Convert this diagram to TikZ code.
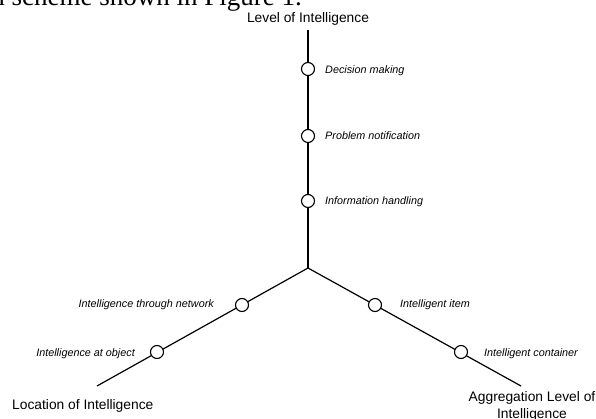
\documentclass[tikz,border=0pt]{standalone}
\usepackage{fontspec}
\setmainfont{Liberation Sans}
\newfontfamily\serifdoc{Liberation Serif}
\begin{document}
\begin{tikzpicture}[x=1pt,y=-1pt,
  axis/.style={line width=1.2pt},
  dot/.style={circle,draw,line width=1.1pt,fill=white,minimum size=13pt,inner sep=0pt},
  axlabel/.style={inner sep=0pt,font=\fontsize{13.8}{17}\selectfont},
  itlabel/.style={inner sep=0pt,font=\fontsize{10.8}{13}\selectfont\itshape}]
\useasboundingbox (0,0) rectangle (596,419);
\clip (0,0) rectangle (596,419);
% surrounding document text, cut off at the top
\node[anchor=base east,inner sep=0pt] (doc) at (302,6) {\serifdoc\fontsize{27}{30}\selectfont n scheme shown in Figure 1.};
% axes
\coordinate (c) at (308,268);
\coordinate (t) at (308,30);
\coordinate (l) at (97,386);
\coordinate (r) at (521,386);
\draw[axis] (c) -- (t);
\draw[axis] (c) -- (l);
\draw[axis] (c) -- (r);
% circles
\node[dot] (v1) at (308,69) {};
\node[dot] (v2) at (308,136) {};
\node[dot] (v3) at (308,201) {};
\node[dot] (l1) at (242,305) {};
\node[dot] (l2) at (157,352) {};
\node[dot] (r1) at (375,305) {};
\node[dot] (r2) at (461,352) {};
% axis labels
\node[axlabel,anchor=base] (lt) at (308,23) {Level of Intelligence};
\node[axlabel,anchor=base west] (ll) at (12,409) {Location of Intelligence};
\node[axlabel,anchor=north,align=center] (lr) at (532,391) {Aggregation Level of\\Intelligence};
% item labels
\node[itlabel,anchor=base west] (tv1) at (325,74) {Decision making};
\node[itlabel,anchor=base west] (tv2) at (325,140) {Problem notification};
\node[itlabel,anchor=base west] (tv3) at (325,205) {Information handling};
\node[itlabel,anchor=base east] (tl1) at (214,307) {Intelligence through network};
\node[itlabel,anchor=base east] (tl2) at (135,356) {Intelligence at object};
\node[itlabel,anchor=base west] (tr1) at (400,307) {Intelligent item};
\node[itlabel,anchor=base west] (tr2) at (484,356) {Intelligent container};
\end{tikzpicture}
\end{document}
